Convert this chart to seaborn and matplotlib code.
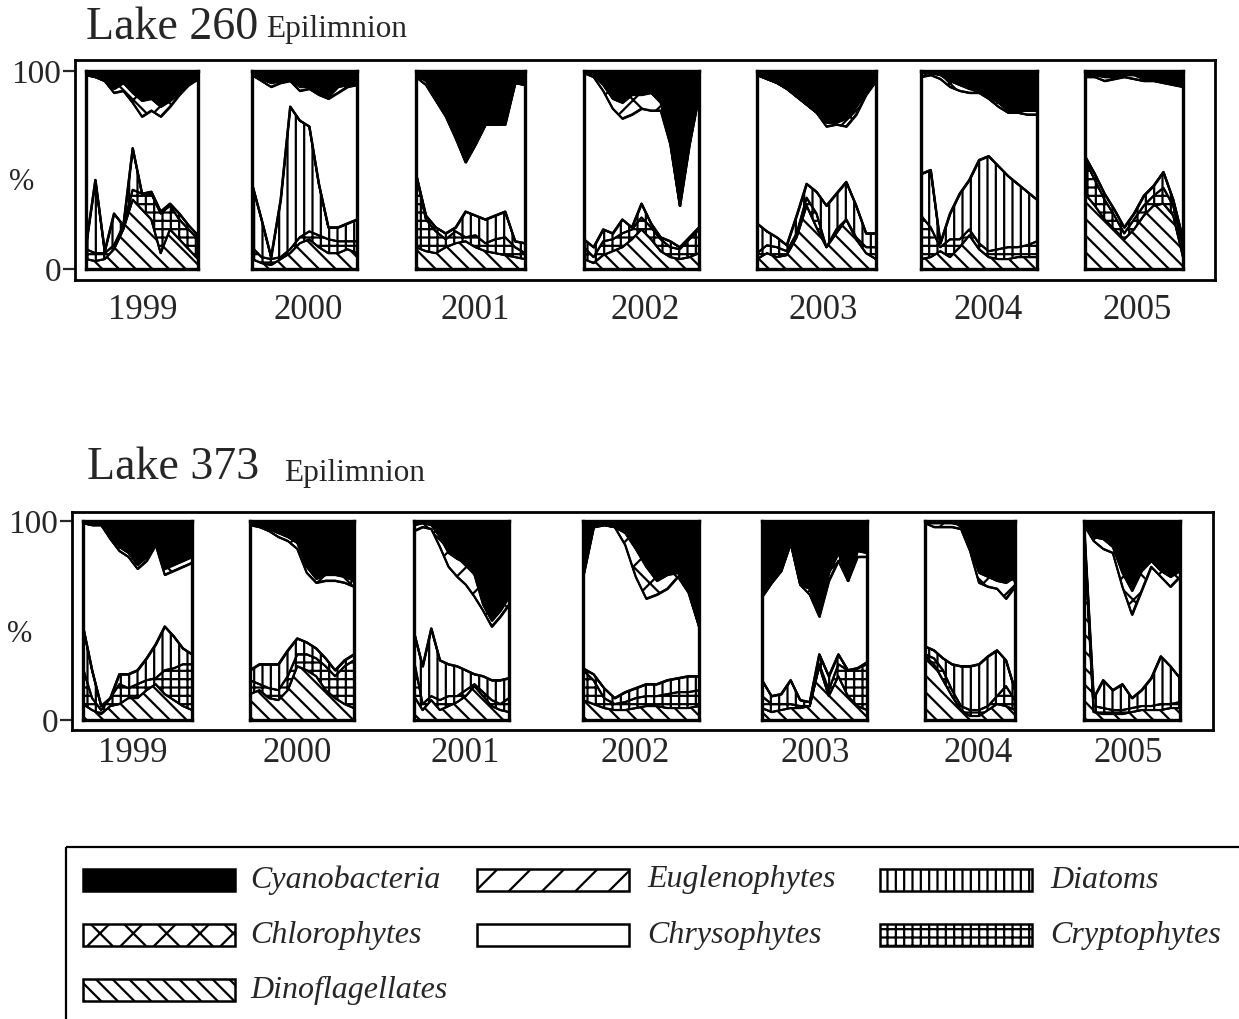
import numpy as np
import matplotlib
matplotlib.use("Agg")
import matplotlib.pyplot as plt
import seaborn as sns
from matplotlib.patches import Rectangle

# ---------------- data (percent of biomass, per sampling date) ----------------
years = ["1999", "2000", "2001", "2002", "2003", "2004", "2005"]
groups = ["Dinoflagellates", "Cryptophytes", "Diatoms", "Euglenophytes",
          "Chrysophytes", "Chlorophytes", "Cyanobacteria"]  # stack order bottom->top

# Lake 260
l260_dino = [[5, 4, 5, 10, 20, 35, 30, 25, 8, 20, 15, 10, 5],
             [5, 3, 2, 5, 8, 13, 15, 11, 8, 8, 10, 8],
             [11, 9, 8, 11, 13, 14, 11, 9, 8, 7, 6, 5],
             [5, 3, 7, 9, 11, 15, 20, 15, 9, 6, 5, 6, 8],
             [5, 8, 6, 7, 16, 32, 21, 11, 18, 25, 15, 8, 5],
             [5, 6, 9, 6, 11, 17, 10, 6, 5, 5, 6, 6, 6],
             [38, 32, 25, 20, 15, 20, 27, 32, 33, 27, 6]]
l260_crypto = [[5, 4, 3, 2, 2, 5, 8, 13, 20, 12, 10, 10, 10],
               [6, 3, 3, 1, 2, 3, 4, 6, 7, 6, 4, 6],
               [37, 16, 11, 4, 6, 2, 6, 4, 7, 9, 5, 3],
               [6, 3, 7, 6, 7, 5, 6, 6, 6, 5, 5, 9, 12],
               [3, 4, 5, 2, 2, 4, 7, 0, 2, 0, 1, 3, 6],
               [22, 15, 2, 9, 4, 3, 3, 3, 5, 6, 5, 6, 8],
               [17, 13, 10, 7, 3, 5, 5, 5, 8, 5, 5]]
l260_diatom = [[2, 37, 1, 16, 0, 21, 0, 1, 1, 1, 3, 2, 2],
               [32, 19, 1, 29, 72, 59, 53, 26, 6, 7, 9, 11],
               [0, 2, 2, 3, 2, 13, 10, 12, 12, 13, 3, 5],
               [4, 5, 6, 3, 7, 1, 7, 2, 1, 3, 1, 1, 1],
               [15, 7, 5, 3, 9, 7, 11, 21, 18, 19, 16, 7, 7],
               [21, 29, 2, 13, 23, 25, 42, 48, 42, 36, 32, 27, 21],
               [2, 3, 3, 3, 3, 3, 5, 5, 8, 3, 4]]
l260_eugl = [[0, 0, 0, 0, 0, 0, 0, 0, 0, 0, 0, 0, 0],
             [0, 0, 0, 0, 0, 0, 0, 0, 0, 0, 0, 0],
             [0, 0, 0, 0, 0, 0, 0, 0, 0, 0, 0, 0],
             [0, 0, 0, 0, 0, 0, 0, 0, 0, 0, 0, 0, 0],
             [0, 0, 0, 0, 0, 0, 0, 0, 0, 0, 0, 0, 0],
             [0, 0, 0, 0, 0, 0, 0, 0, 0, 0, 0, 0, 0],
             [0, 0, 0, 0, 0, 0, 0, 0, 0, 0, 0]]
l260_chryso = [[86, 52, 86, 61, 68, 23, 39, 41, 48, 49, 60, 71, 79],
               [55, 70, 86, 59, 13, 15, 19, 45, 65, 68, 69, 68],
               [49, 66, 64, 59, 45, 25, 36, 48, 46, 44, 80, 80],
               [84, 86, 70, 63, 51, 57, 48, 57, 64, 49, 21, 47, 67],
               [75, 77, 78, 79, 60, 40, 40, 40, 35, 28, 46, 70, 77],
               [49, 48, 83, 64, 52, 44, 34, 29, 30, 32, 36, 39, 43],
               [40, 49, 57, 66, 76, 68, 58, 53, 45, 58, 77]]
l260_chloro = [[0, 0, 0, 2, 4, 5, 8, 6, 5, 3, 1, 0, 0],
               [0, 1, 2, 1, 1, 2, 1, 1, 1, 3, 1, 1],
               [1, 2, 2, 2, 1, 0, 0, 0, 0, 1, 0, 0],
               [0, 1, 3, 5, 8, 10, 7, 9, 4, 1, 0, 0, 0],
               [0, 0, 0, 0, 0, 0, 0, 2, 1, 4, 4, 1, 0],
               [2, 1, 2, 3, 3, 2, 1, 1, 2, 1, 1, 2, 2],
               [1, 1, 2, 1, 1, 2, 1, 1, 1, 1, 1]]
l260_cyano = [[2, 3, 5, 9, 6, 11, 15, 14, 18, 15, 11, 7, 4],
              [2, 4, 6, 5, 4, 8, 8, 11, 13, 8, 7, 6],
              [2, 5, 13, 21, 33, 46, 37, 27, 27, 26, 6, 7],
              [1, 2, 7, 14, 16, 12, 12, 11, 16, 36, 68, 37, 12],
              [2, 4, 6, 9, 13, 17, 21, 26, 26, 24, 18, 11, 5],
              [1, 1, 2, 5, 7, 9, 10, 13, 16, 20, 20, 20, 20],
              [2, 2, 3, 3, 2, 2, 4, 4, 5, 6, 7]]

# Lake 373
l373_dino = [[8, 5, 3, 7, 8, 11, 11, 15, 18, 13, 10, 7, 5],
             [13, 15, 11, 10, 15, 27, 25, 22, 15, 11, 8, 6],
             [12, 5, 10, 5, 7, 9, 12, 17, 12, 7, 5, 4],
             [10, 8, 6, 5, 5, 6, 7, 7, 6, 6, 6, 7],
             [6, 4, 5, 6, 6, 7, 27, 12, 22, 12, 7, 5],
             [32, 28, 20, 12, 5, 2, 2, 5, 8, 7, 5],
             [95, 4, 3, 3, 3, 4, 5, 5, 5, 6, 6]]
l373_crypto = [[18, 6, 2, 4, 10, 5, 7, 5, 3, 12, 16, 21, 23],
               [7, 3, 5, 5, 7, 6, 8, 9, 12, 11, 19, 24],
               [18, 3, 2, 5, 5, 3, 3, 1, 2, 3, 3, 7],
               [15, 12, 5, 3, 4, 5, 5, 5, 7, 8, 8, 8],
               [6, 4, 3, 2, 1, 0, 1, 3, 6, 13, 19, 23],
               [1, 3, 5, 3, 2, 3, 3, 2, 4, 10, 5],
               [2, 3, 3, 2, 2, 2, 2, 2, 3, 2, 3]]
l373_diatom = [[21, 14, 2, 0, 5, 7, 7, 11, 17, 22, 16, 8, 5],
               [5, 10, 12, 13, 13, 8, 6, 5, 4, 3, 3, 3],
               [14, 19, 34, 20, 16, 15, 10, 5, 8, 10, 12, 10],
               [1, 3, 5, 3, 5, 5, 6, 6, 7, 7, 8, 7],
               [8, 4, 5, 12, 3, 2, 5, 7, 5, 0, 0, 1],
               [4, 4, 6, 13, 20, 22, 23, 25, 23, 13, 5],
               [1, 4, 14, 10, 13, 5, 8, 14, 24, 19, 12]]
l373_eugl = [[0, 0, 0, 0, 0, 0, 0, 0, 0, 0, 0, 0, 0],
             [0, 0, 0, 0, 0, 0, 0, 0, 0, 0, 0, 0],
             [0, 0, 0, 0, 0, 0, 0, 0, 0, 0, 0, 0],
             [0, 0, 0, 0, 0, 0, 0, 0, 0, 0, 0, 0],
             [0, 0, 0, 0, 0, 0, 0, 0, 0, 0, 0, 0],
             [0, 0, 0, 0, 0, 0, 0, 0, 0, 0, 0],
             [0, 0, 0, 0, 0, 0, 0, 0, 0, 0, 0]]
l373_chryso = [[52, 73, 91, 80, 62, 59, 51, 49, 50, 26, 33, 41, 46],
               [73, 69, 67, 64, 55, 45, 35, 33, 39, 45, 39, 34],
               [51, 70, 50, 57, 49, 45, 43, 39, 33, 27, 32, 37],
               [46, 74, 82, 86, 74, 56, 43, 45, 46, 51, 42, 25],
               [42, 57, 62, 69, 58, 54, 19, 48, 47, 45, 56, 53],
               [62, 62, 66, 69, 69, 58, 41, 35, 31, 31, 52],
               [0, 79, 66, 69, 49, 42, 50, 56, 40, 40, 51]]
l373_chloro = [[0, 0, 0, 1, 2, 2, 2, 2, 2, 3, 3, 3, 3],
               [1, 1, 1, 2, 2, 3, 3, 2, 3, 3, 3, 3],
               [3, 2, 2, 5, 7, 9, 11, 11, 3, 3, 3, 4],
               [0, 0, 0, 0, 6, 14, 16, 7, 7, 2, 1, 0],
               [0, 0, 0, 0, 0, 3, 1, 4, 4, 0, 3, 2],
               [0, 2, 2, 2, 2, 2, 5, 5, 4, 8, 5],
               [2, 2, 5, 3, 7, 12, 10, 3, 3, 5, 3]]
l373_cyano = [[1, 2, 2, 8, 13, 16, 22, 18, 10, 24, 22, 20, 18],
              [1, 2, 4, 6, 8, 11, 23, 29, 27, 27, 28, 30],
              [2, 1, 2, 8, 16, 19, 21, 27, 42, 50, 45, 38],
              [28, 3, 2, 3, 6, 14, 23, 30, 27, 26, 35, 53],
              [38, 31, 25, 11, 32, 34, 47, 26, 16, 30, 15, 16],
              [1, 1, 1, 1, 2, 13, 26, 28, 30, 31, 28],
              [0, 8, 9, 13, 26, 35, 25, 20, 25, 28, 25]]

# ---------------- style ----------------
sns.set_theme(style="white")
plt.rcParams["font.family"] = ["Liberation Serif", "DejaVu Serif"]
plt.rcParams["hatch.linewidth"] = 1.6
plt.rcParams["hatch.color"] = "black"

styles = {
    "Dinoflagellates": dict(facecolor="white", hatch="\\\\"),
    "Cryptophytes": dict(facecolor="white", hatch="++"),
    "Diatoms": dict(facecolor="white", hatch="||"),
    "Euglenophytes": dict(facecolor="white", hatch="/"),
    "Chrysophytes": dict(facecolor="white", hatch=None),
    "Chlorophytes": dict(facecolor="white", hatch="x"),
    "Cyanobacteria": dict(facecolor="black", hatch=None),
}

W, H = 1239, 1019
fig = plt.figure(figsize=(W / 100, H / 100), dpi=100)
fig.patch.set_facecolor("white")


def rect(x0, y0, x1, y1):
    return [x0 / W, 1 - y1 / H, (x1 - x0) / W, (y1 - y0) / H]


lakes = [
    dict(name="Lake 260",
         layers=[l260_dino, l260_crypto, l260_diatom, l260_eugl, l260_chryso, l260_chloro, l260_cyano],
         outer=(75, 60, 1215, 280), ptop=71, pbot=269,
         panels=[(86, 198), (252, 357), (416, 525), (584, 699), (757, 876), (921, 1037), (1085, 1183)],
         year_x=[143, 308, 475, 645, 823, 988, 1137], year_y=310,
         title=(86, 28), epi=(266, 30), pct=(22, 183)),
    dict(name="Lake 373",
         layers=[l373_dino, l373_crypto, l373_diatom, l373_eugl, l373_chryso, l373_chloro, l373_cyano],
         outer=(72, 512, 1213, 730), ptop=521, pbot=720,
         panels=[(83, 192), (250, 354), (414, 509), (583, 699), (762, 867), (925, 1015), (1084, 1180)],
         year_x=[133, 297, 465, 635, 815, 978, 1128], year_y=753,
         title=(87, 468), epi=(284, 474), pct=(20, 635)),
]

for lake in lakes:
    x0, y0, x1, y1 = lake["outer"]
    pxu = (lake["pbot"] - lake["ptop"]) / 100.0
    outer = fig.add_axes(rect(x0, y0, x1, y1))
    outer.set_xlim(0, 1)
    outer.set_ylim(-(y1 - lake["pbot"]) / pxu, 100 + (lake["ptop"] - y0) / pxu)
    outer.set_xticks([])
    outer.set_yticks([0, 100])
    outer.set_yticklabels(["0", "100"], fontsize=24)
    outer.tick_params(axis="y", direction="out", length=9, width=1.6, left=True, pad=1)
    for s in outer.spines.values():
        s.set_linewidth(2.0)
        s.set_color("black")
        s.set_visible(True)

    for yi, (px0, px1) in enumerate(lake["panels"]):
        ax = fig.add_axes(rect(px0, lake["ptop"], px1, lake["pbot"]))
        n = len(lake["layers"][0][yi])
        x = np.arange(n)
        cum = np.zeros(n)
        for g, layer in zip(groups, lake["layers"]):
            vals = np.asarray(layer[yi], dtype=float)
            st = styles[g]
            ax.fill_between(x, cum, cum + vals, facecolor=st["facecolor"],
                            hatch=st["hatch"], edgecolor="black", linewidth=1.3)
            cum = cum + vals
            sns.lineplot(x=x, y=cum, ax=ax, color="black", linewidth=1.6, legend=False)
        ax.set_xlim(0, n - 1)
        ax.set_ylim(0, 100)
        ax.set_xticks([])
        ax.set_yticks([])
        for s in ax.spines.values():
            s.set_linewidth(2.4)
            s.set_color("black")
            s.set_visible(True)
        fig.text(lake["year_x"][yi] / W, 1 - lake["year_y"] / H, years[yi],
                 ha="center", va="center", fontsize=25)

    fig.text(lake["title"][0] / W, 1 - lake["title"][1] / H, lake["name"],
             ha="left", va="center", fontsize=33)
    fig.text(lake["epi"][0] / W, 1 - lake["epi"][1] / H, "Epilimnion",
             ha="left", va="center", fontsize=22.5)
    fig.text(lake["pct"][0] / W, 1 - lake["pct"][1] / H, "%",
             ha="center", va="center", fontsize=22)

# ---------------- legend ----------------
leg = fig.add_axes([0, 0, 1, 1], facecolor="none")
leg.set_xlim(0, W)
leg.set_ylim(H, 0)
leg.axis("off")
leg.add_patch(Rectangle((66, 847), W - 66 + 10, 200, fill=False, edgecolor="black", linewidth=1.6))

legend_rows = [["Cyanobacteria", "Euglenophytes", "Diatoms"],
               ["Chlorophytes", "Chrysophytes", "Cryptophytes"],
               ["Dinoflagellates"]]
col_patch_x = [83, 477, 880]
col_text_x = [250, 647, 1050]
row_y = [880, 935, 990]
for r, row in enumerate(legend_rows):
    for c, g in enumerate(row):
        st = styles[g]
        leg.add_patch(Rectangle((col_patch_x[c], row_y[r] - 11), 152, 22,
                                facecolor=st["facecolor"], hatch=st["hatch"],
                                edgecolor="black", linewidth=1.8))
        leg.text(col_text_x[c], row_y[r], g, ha="left", va="center",
                 fontsize=23, style="italic")

fig.savefig("out.png", dpi=100, facecolor="white")
